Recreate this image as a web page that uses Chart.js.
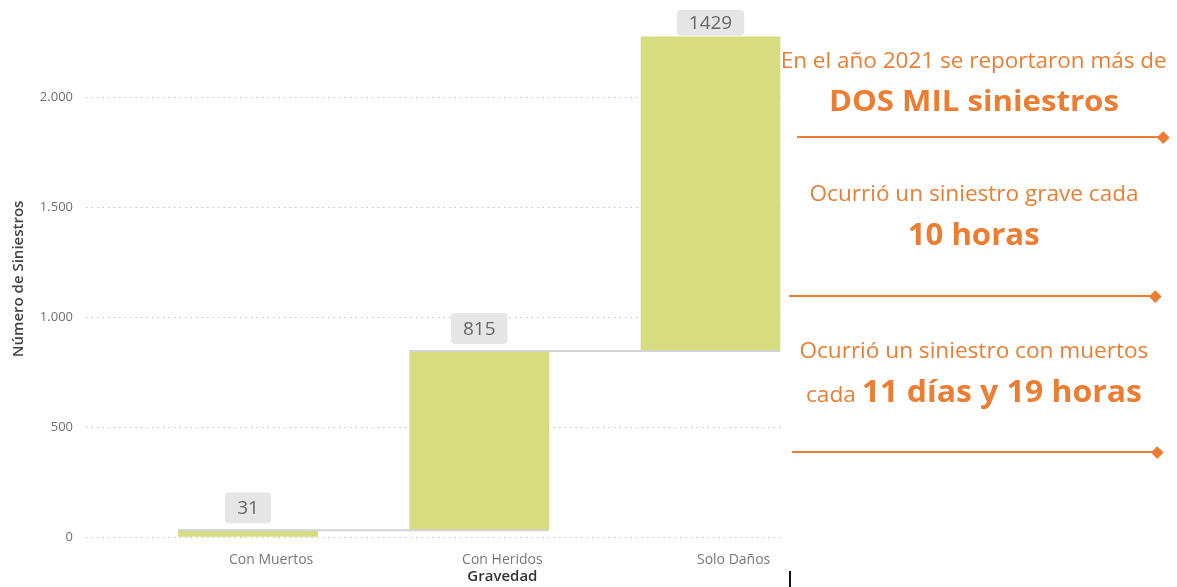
<!DOCTYPE html>
<html>
<head>
<meta charset="utf-8">
<script src="https://cdn.jsdelivr.net/npm/chart.js@4.4.1/dist/chart.umd.min.js"></script>
<style>
  body { margin: 0; background: #fff; font-family: 'Open Sans', sans-serif; }
  #wrap { position: relative; width: 1177px; height: 587px; overflow: hidden; }
  #chart-box { position: absolute; left: 0; top: 0; width: 1177px; height: 587px; }
  .note { position: absolute; left: 724px; width: 500px; text-align: center; color: #ED7D31; line-height: 1; white-space: nowrap; }
  .note .fit { display: inline-block; transform-origin: center; }
  .note b { font-weight: 700; }
  .rule { position: absolute; height: 2px; background: #ED7D31; }
  .rule i { position: absolute; right: -4.25px; top: -3.25px; width: 8.5px; height: 8.5px; background: #ED7D31; transform: rotate(45deg); }
  #cursor { position: absolute; left: 789px; top: 571px; width: 2px; height: 16px; background: #111; }
</style>
</head>
<body>
<div id="wrap">
  <div id="chart-box"><canvas id="waterfall"></canvas></div>

  <div class="note" data-w="386" style="top:47.5px;font-size:22px"><span class="fit">En el año 2021 se reportaron más de</span></div>
  <div class="note" data-w="290" style="top:85px;font-size:29px"><span class="fit"><b>DOS MIL siniestros</b></span></div>
  <div class="rule" style="left:797px;width:366px;top:136px"><i></i></div>

  <div class="note" data-w="329" style="top:182.5px;font-size:21px"><span class="fit">Ocurrió un siniestro grave cada</span></div>
  <div class="note" data-w="132" style="top:217.5px;font-size:31px"><span class="fit"><b>10 horas</b></span></div>
  <div class="rule" style="left:789px;width:366px;top:295px"><i></i></div>

  <div class="note" data-w="349" style="top:337.5px;font-size:22px"><span class="fit">Ocurrió un siniestro con muertos</span></div>
  <div class="note" data-w="336" style="top:374.5px;font-size:31px"><span class="fit"><span style="font-size:22px">cada </span><b>11 días y 19 horas</b></span></div>
  <div class="rule" style="left:792px;width:365px;top:451px"><i></i></div>

  <div id="cursor"></div>
</div>

<script>
// waterfall data
const categories = ['Con Muertos', 'Con Heridos', 'Solo Daños'];
const siniestros = [31, 815, 1429];
const yTicks = [0, 500, 1000, 1500, 2000];
const yTitle = 'Número de Siniestros';
const xTitle = 'Gravedad';

// each step floats on top of the previous total
let running = 0;
const floating = siniestros.map((v, i) => {
  const d = { x: i, y: [running, running + v] };
  running += v;
  return d;
});

// connectors, value boxes and the axis title
const waterfallExtras = {
  id: 'waterfallExtras',
  afterDatasetsDraw(chart) {
    const ctx = chart.ctx;
    const bars = chart.getDatasetMeta(0).data;
    const xScale = chart.scales.x;
    ctx.save();

    ctx.strokeStyle = '#d4d4d4';
    ctx.lineWidth = 2;
    for (let i = 0; i < bars.length - 1; i++) {
      const y = bars[i].y;
      const x0 = bars[i].x - bars[i].width / 2;
      const x1 = bars[i + 1].x + bars[i + 1].width / 2;
      ctx.beginPath();
      ctx.moveTo(x0, y);
      ctx.lineTo(x1, y);
      ctx.stroke();
    }

    ctx.font = '19px "Open Sans"';
    ctx.textAlign = 'center';
    ctx.textBaseline = 'middle';
    bars.forEach((bar, i) => {
      const txt = String(siniestros[i]);
      const w = ctx.measureText(txt).width + 24;
      let bottom = bar.y - 7, top = bottom - 31;
      if (top < 10) { top = 10; bottom = bar.y - 1; }
      ctx.fillStyle = '#e6e6e6';
      ctx.beginPath();
      ctx.roundRect(bar.x - w / 2, top, w, bottom - top, 4);
      ctx.fill();
      ctx.fillStyle = '#666';
      ctx.fillText(txt, bar.x, (top + bottom) / 2 + 1);
    });

    ctx.font = '600 15px "Open Sans"';
    ctx.fillStyle = '#333';
    ctx.fillText(xTitle, xScale.getPixelForValue(1.1), 577);
    ctx.restore();
  }
};

const config = {
  type: 'bar',
  data: {
    datasets: [{
      label: 'Siniestros',
      data: floating,
      backgroundColor: '#D6DC7F',
      borderWidth: 0,
      barThickness: 139
    }]
  },
  options: {
    responsive: true,
    maintainAspectRatio: false,
    animation: false,
    layout: { padding: { top: 17, right: 394, left: 0, bottom: 0 } },
    plugins: { legend: { display: false }, tooltip: { enabled: false } },
    scales: {
      x: {
        type: 'linear',
        offset: false,
        min: -0.7005,
        max: 2.3135,
        grid: { display: false, offset: false },
        border: { display: false },
        afterBuildTicks: s => { s.ticks = categories.map((c, i) => ({ value: i + 0.1 })); },
        afterFit: s => { s.height = 50; },
        ticks: {
          autoSkip: false, maxRotation: 0, padding: 7, color: '#777',
          font: { family: 'Open Sans', size: 14 },
          callback: (v, i) => categories[i]
        }
      },
      y: {
        min: 0,
        max: 2348,
        afterBuildTicks: s => { s.ticks = yTicks.map(v => ({ value: v })); },
        afterFit: s => { s.width = 86; },
        grid: { color: '#c4c4c4', lineWidth: 1, drawTicks: false },
        border: { display: false, dash: [1.5, 4] },
        ticks: {
          padding: 13, color: '#6f6f6f',
          font: { family: 'Open Sans', size: 13 },
          callback: v => v.toLocaleString('de-DE')
        },
        title: {
          display: true, text: yTitle, color: '#444',
          font: { family: 'Open Sans', size: 15, weight: '600' },
          padding: { top: 10, bottom: 0 }
        }
      }
    }
  },
  plugins: [waterfallExtras]
};

const myChart = new Chart(document.getElementById('waterfall'), config);

// squeeze the side notes to the widths of the original lines
function fitNotes() {
  document.querySelectorAll('.note').forEach(n => {
    const span = n.querySelector('.fit');
    span.style.transform = 'none';
    const w = span.getBoundingClientRect().width;
    const target = +n.dataset.w;
    if (w > 0) span.style.transform = 'scaleX(' + (target / w) + ')';
  });
}
fitNotes();
if (document.fonts) document.fonts.ready.then(() => { fitNotes(); myChart.update(); });
</script>
</body>
</html>
